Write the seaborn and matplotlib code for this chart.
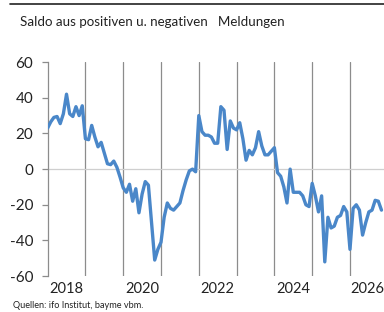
import numpy as np
import pandas as pd
import seaborn as sns
import matplotlib.pyplot as plt

# Saldo, monthly values (first month = Jan 2018 position)
saldo = [
    23, 26.5, 29, 29.5, 25.5, 31, 42, 31, 29.5, 35, 30, 35.5,
    17, 16.5, 24.5, 18, 12.5, 15, 9, 3, 2.5, 4.5, 1, -4.5,
    -10.5, -13, -8.5, -18, -11, -24.5, -14, -7, -9, -30, -51, -45,
    -41, -27, -19, -22, -23, -21, -19, -12, -6, -1, 0, -1.5,
    30, 21, 19, 19, 18, 14.5, 14.5, 35, 33, 11, 27, 23,
    22, 26, 17, 5, 10.5, 8, 12, 21, 13, 8, 8, 10,
    12, -2, -4, -10, -19, 0, -13, -13, -13, -15, -20, -21,
    -8, -15, -24, -15, -52, -27, -33, -32, -27, -26, -21, -24,
    -45, -22, -20, -23, -37, -30, -24, -23, -17.5, -18, -23,
]
jahre = ["2018", "2020", "2022", "2024", "2026"]
jahr_pos = [6, 30, 54, 78, 101.6]
y_ticks = [-60, -40, -20, 0, 20, 40, 60]

df = pd.DataFrame({"monat": np.arange(len(saldo)), "saldo": saldo})

sns.set_style("white")
plt.rcParams["font.family"] = ["Lato", "DejaVu Sans"]

fig = plt.figure(figsize=(3.84, 3.12), dpi=100)
ax = fig.add_axes([0.124, 0.115, 0.876, 0.686])

sns.lineplot(data=df, x="monat", y="saldo", ax=ax, color="#4a87c9",
             linewidth=2.4, zorder=3)

ax.set_xlim(0, 106.8)
ax.set_ylim(-60, 60)
ax.set_yticks(y_ticks)
ax.set_yticklabels([str(v) for v in y_ticks], fontsize=11, color="#222222")
ax.set_xticks(jahr_pos)
ax.set_xticklabels(jahre, fontsize=10.5, color="#222222")
ax.set_xticks(np.arange(12, 106, 12), minor=True)
ax.grid(False)
ax.grid(True, which="minor", axis="x", color="#8c8c8c", linewidth=0.9)
ax.axhline(0, color="#cfcfcf", linewidth=0.9, zorder=1)

for s in ["top", "right", "bottom"]:
    ax.spines[s].set_visible(False)
ax.spines["left"].set_color("#8c8c8c")
ax.spines["left"].set_linewidth(0.9)
ax.tick_params(axis="y", which="major", left=True, length=4.3, width=0.9,
               color="#8c8c8c", pad=6)
ax.tick_params(axis="x", which="both", bottom=False, pad=1)
ax.set_xlabel("")
ax.set_ylabel("")

fig.add_artist(plt.Line2D([0.026, 1.0], [0.987, 0.987], color="#222222",
                          linewidth=1.2))
fig.text(0.052, 0.93, "Saldo aus positiven u. negativen   Meldungen",
         fontsize=9.6, color="#222222", va="center")
fig.text(0.034, 0.022, "Quellen: ifo Institut, bayme vbm.", fontsize=6.6,
         color="#222222", va="center")

fig.savefig("out.png", dpi=100)
